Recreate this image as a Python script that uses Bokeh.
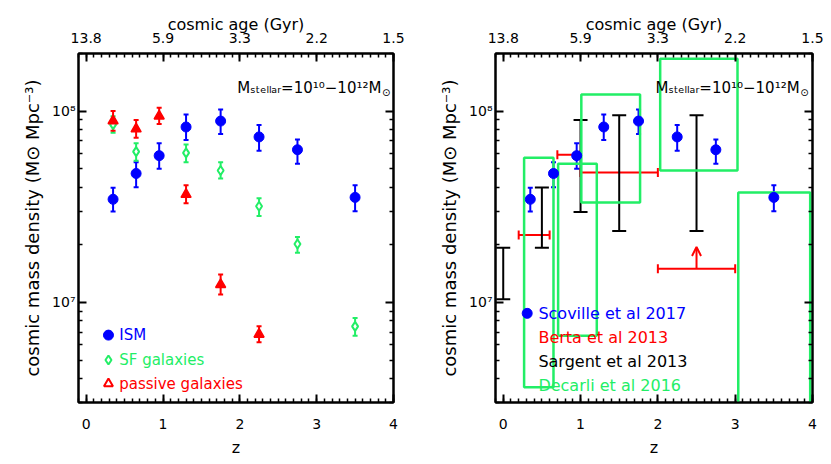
from bokeh.plotting import figure
from bokeh.models import (Range1d, LinearAxis, LogAxis, SingleIntervalTicker, FixedTicker,
                          CustomJSTickFormatter, ColumnDataSource, Whisker, TeeHead,
                          Arrow, OpenHead)
from bokeh.layouts import row
from bokeh.embed import file_html
from bokeh.resources import INLINE
from bokeh.core.properties import value

FONT = "DejaVu Sans"
BLUE = "#0000ff"
RED = "#ff0000"
GREEN = "#22ee66"
BLACK = "#000000"

# ---------------- data ----------------
age_ticks_z = [0, 1, 2, 3, 4]
age_labels = ["13.8", "5.9", "3.3", "2.2", "1.5"]
y_major = [1e7, 1e8]
y_minor = [m * 10.0 ** e for e in (6, 7, 8) for m in range(2, 10)]

# ISM (Scoville et al 2017)
ism_z = [0.35, 0.65, 0.95, 1.3, 1.75, 2.25, 2.75, 3.5]
ism_rho = [3.46e7, 4.72e7, 5.85e7, 8.26e7, 8.87e7, 7.33e7, 6.28e7, 3.54e7]
ism_hi = [3.97e7, 5.4e7, 6.8e7, 9.6e7, 1.02e8, 8.46e7, 7.1e7, 4.1e7]
ism_lo = [2.99e7, 4.0e7, 5.0e7, 7.07e7, 7.6e7, 6.2e7, 5.3e7, 3.0e7]

# SF galaxies
sf_z = [0.35, 0.65, 1.3, 1.75, 2.25, 2.75, 3.5]
sf_rho = [8.5e7, 6.14e7, 6.05e7, 4.89e7, 3.18e7, 2.02e7, 7.5e6]
sf_hi = [9.4e7, 6.8e7, 6.7e7, 5.4e7, 3.5e7, 2.2e7, 8.3e6]
sf_lo = [7.7e7, 5.5e7, 5.4e7, 4.45e7, 2.83e7, 1.82e7, 6.7e6]

# passive galaxies
pa_z = [0.35, 0.65, 0.95, 1.3, 1.75, 2.25]
pa_rho = [8.9e7, 8.07e7, 9.42e7, 3.67e7, 1.24e7, 6.82e6]
pa_hi = [1.0e8, 8.98e7, 1.04e8, 4.1e7, 1.40e7, 7.5e6]
pa_lo = [7.9e7, 7.25e7, 8.56e7, 3.3e7, 1.10e7, 6.2e6]

# Decarli et al 2016 boxes
dec_z0 = [0.27, 0.71, 1.01, 2.03, 3.04]
dec_z1 = [0.65, 1.21, 1.77, 3.03, 3.97]
dec_lo = [3.6e6, 6.7e6, 3.33e7, 4.9e7, 1.0e6]
dec_hi = [5.7e7, 5.3e7, 1.22e8, 1.88e8, 3.76e7]

# Sargent et al 2013 ranges
sar_z = [0.0, 0.5, 1.0, 1.5, 2.5]
sar_hi = [1.93e7, 3.99e7, 8.98e7, 9.5e7, 9.5e7]
sar_lo = [1.04e7, 1.93e7, 2.97e7, 2.36e7, 2.36e7]

# Berta et al 2013 bins
ber_z0 = [0.2, 0.7, 1.0, 2.0]
ber_z1 = [0.6, 1.0, 2.0, 3.0]
ber_rho = [2.25e7, 5.92e7, 4.77e7, 1.5e7]
ber_lim_z = [2.5]
ber_lim_from = [1.5e7]
ber_lim_to = [1.95e7]

left_legend = ["ISM", "SF galaxies", "passive galaxies"]
right_legend = ["Scoville et al 2017", "Berta et al 2013", "Sargent et al 2013", "Decarli et al 2016"]

YLABEL = "cosmic mass density (M\u2299 Mpc\u207b\u00b3)"
MSTEL = "M\u209b\u209c\u2091\u2097\u2097\u2090\u1d63=10\u00b9\u2070\u221210\u00b9\u00b2M"

SUP_JS = """
const e = Math.round(Math.log10(tick));
const s = {'0':'\u2070','1':'\u00b9','2':'\u00b2','3':'\u00b3','4':'\u2074','5':'\u2075',
           '6':'\u2076','7':'\u2077','8':'\u2078','9':'\u2079','-':'\u207b'};
return '10' + String(e).split('').map(c => s[c]).join('');
"""


def style_axis(ax):
    ax.axis_line_width = 2
    ax.axis_line_color = BLACK
    ax.major_tick_in = 8
    ax.major_tick_out = 0
    ax.minor_tick_in = 4
    ax.minor_tick_out = 0
    ax.major_tick_line_width = 2
    ax.minor_tick_line_width = 1.5
    ax.major_label_text_font = FONT
    ax.major_label_text_font_size = "14px"
    ax.major_label_text_color = BLACK
    ax.axis_label_text_font = FONT
    ax.axis_label_text_font_size = "16px"
    ax.axis_label_text_font_style = "normal"
    ax.axis_label_text_color = BLACK


def make_panel(width, border_left, border_right):
    p = figure(width=width, height=460, x_range=Range1d(-0.1, 4.0),
               y_range=Range1d(3e6, 2e8), y_axis_type="log",
               output_backend="svg", toolbar_location=None,
               min_border_left=border_left, min_border_right=border_right,
               min_border_top=53, min_border_bottom=58)
    p.xgrid.visible = False
    p.ygrid.visible = False
    p.outline_line_color = BLACK
    p.outline_line_width = 2
    p.background_fill_color = "white"
    p.border_fill_color = "white"

    # bottom axis
    p.xaxis.ticker = SingleIntervalTicker(interval=1, num_minor_ticks=10)
    p.xaxis.axis_label = "z"
    style_axis(p.xaxis[0])
    p.xaxis.major_label_standoff = 16
    p.xaxis.axis_label_standoff = 6

    # left axis
    p.yaxis.ticker = FixedTicker(ticks=y_major, minor_ticks=y_minor)
    p.yaxis.formatter = CustomJSTickFormatter(code=SUP_JS)
    p.yaxis.axis_label = YLABEL
    style_axis(p.yaxis[0])
    p.yaxis.axis_label_text_font_size = "18px"
    p.yaxis.major_label_standoff = 3
    p.yaxis.axis_label_standoff = 6

    # top axis with cosmic age labels
    top = LinearAxis(ticker=SingleIntervalTicker(interval=1, num_minor_ticks=10),
                     axis_label="cosmic age (Gyr)",
                     major_label_overrides={z: lab for z, lab in zip(age_ticks_z, age_labels)})
    style_axis(top)
    top.major_label_standoff = 11
    top.axis_label_standoff = -4
    p.add_layout(top, "above")

    # right axis (ticks only)
    right = LogAxis(ticker=FixedTicker(ticks=y_major, minor_ticks=y_minor),
                    formatter=CustomJSTickFormatter(code="return '';"))
    style_axis(right)
    right.major_label_standoff = 0
    p.add_layout(right, "right")
    return p


def yerr(p, x, lo, hi, color, size):
    src = ColumnDataSource(dict(x=x, lo=lo, hi=hi))
    w = Whisker(source=src, base="x", lower="lo", upper="hi", dimension="height",
                line_color=color, line_width=2,
                upper_head=TeeHead(size=size, line_color=color, line_width=2),
                lower_head=TeeHead(size=size, line_color=color, line_width=2))
    p.add_layout(w)


def xerr(p, y, x0, x1, color, size):
    src = ColumnDataSource(dict(y=y, x0=x0, x1=x1))
    w = Whisker(source=src, base="y", lower="x0", upper="x1", dimension="width",
                line_color=color, line_width=2,
                upper_head=TeeHead(size=size, line_color=color, line_width=2),
                lower_head=TeeHead(size=size, line_color=color, line_width=2))
    p.add_layout(w)


def mstellar(p, x, y):
    p.text(x=[x], y=[y], text=[MSTEL], text_font=value(FONT), text_font_size="15px",
           text_align="right", text_baseline="middle", text_color=BLACK, x_offset=-9)
    p.text(x=[x], y=[y], text=["\u2299"], text_font=value(FONT), text_font_size="10px",
           text_align="right", text_baseline="middle", text_color=BLACK, y_offset=4)


# ---------------- left panel ----------------
p1 = make_panel(415, 78, 22)
yerr(p1, ism_z, ism_lo, ism_hi, BLUE, 5)
yerr(p1, sf_z, sf_lo, sf_hi, GREEN, 5)
yerr(p1, pa_z, pa_lo, pa_hi, RED, 5)
p1.scatter(sf_z, sf_rho, marker="diamond", size=9, fill_color="white",
           line_color=GREEN, line_width=2)
p1.scatter(pa_z, pa_rho, marker="triangle", size=10, fill_color=RED,
           line_color=RED, line_width=1.5)
p1.scatter(ism_z, ism_rho, marker="circle", size=10, fill_color=BLUE, line_color=BLUE)
mstellar(p1, 3.96, 1.32e8)

# left legend
lx_sym = 0.29
lx_txt = 0.43
ly = [6.75e6, 5.0e6, 3.76e6]
p1.scatter([lx_sym], [ly[0]], marker="circle", size=10, fill_color=BLUE, line_color=BLUE)
p1.scatter([lx_sym], [ly[1]], marker="diamond", size=9, fill_color="white",
           line_color=GREEN, line_width=2)
p1.scatter([lx_sym], [ly[2]], marker="triangle", size=9, fill_color="white",
           line_color=RED, line_width=2)
p1.text(x=[lx_txt] * 3, y=ly, text=left_legend, text_color=[BLUE, GREEN, RED],
        text_font=value(FONT), text_font_size="15px", text_baseline="middle",
        text_align="left")

# ---------------- right panel ----------------
p2 = make_panel(414, 80, 17)
p2.quad(left=dec_z0, right=dec_z1, bottom=dec_lo, top=dec_hi, fill_color=None,
        line_color=GREEN, line_width=2.5)
xerr(p2, ber_rho, ber_z0, ber_z1, RED, 9)
for zz, y0, y1 in zip(ber_lim_z, ber_lim_from, ber_lim_to):
    p2.add_layout(Arrow(end=OpenHead(size=9, line_color=RED, line_width=2),
                        x_start=zz, y_start=y0, x_end=zz, y_end=y1,
                        line_color=RED, line_width=2))
yerr(p2, sar_z, sar_lo, sar_hi, BLACK, 14)
yerr(p2, ism_z, ism_lo, ism_hi, BLUE, 5)
p2.scatter(ism_z, ism_rho, marker="circle", size=10, fill_color=BLUE, line_color=BLUE)
mstellar(p2, 3.95, 1.32e8)

rx_sym = 0.31
rx_txt = 0.455
ry = [8.77e6, 6.59e6, 4.94e6, 3.67e6]
p2.scatter([rx_sym], [ry[0]], marker="circle", size=10, fill_color=BLUE, line_color=BLUE)
p2.text(x=[rx_txt] * 4, y=ry, text=right_legend, text_color=[BLUE, RED, BLACK, GREEN],
        text_font=value(FONT), text_font_size="16px", text_baseline="middle",
        text_align="left")

layout = row(p1, p2)
open("out.html", "w").write(file_html(layout, INLINE))
